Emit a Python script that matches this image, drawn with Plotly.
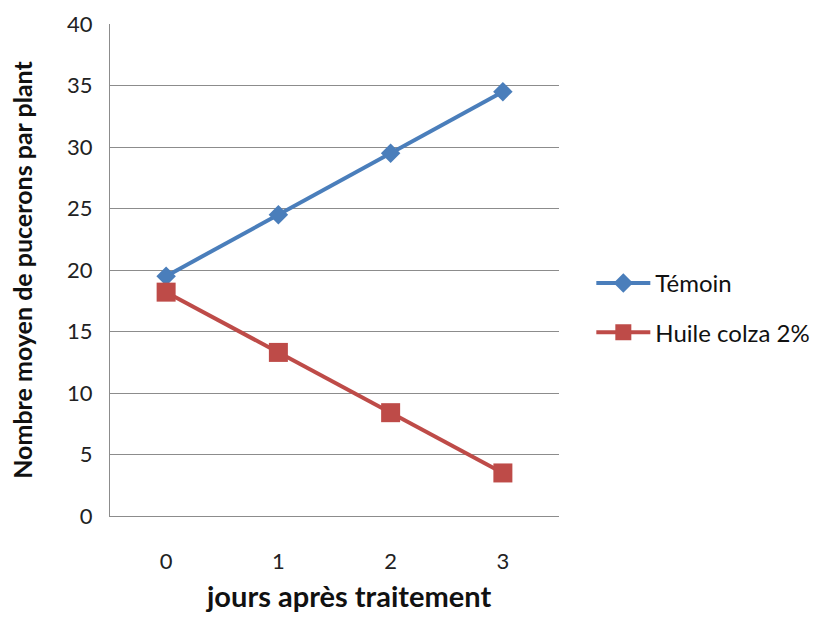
import plotly.graph_objects as go

jours = ["0", "1", "2", "3"]
temoin = [19.5, 24.5, 29.5, 34.5]
huile_colza = [18.2, 13.3, 8.4, 3.5]
y_ticks = [0, 5, 10, 15, 20, 25, 30, 35, 40]

fig = go.Figure()
fig.add_trace(go.Scatter(
    x=jours, y=temoin, name="Témoin", mode="lines+markers",
    legendgroup="a",
    line=dict(color="#4A7EBB", width=4),
    marker=dict(symbol="diamond", size=15, color="#4A7EBB"),
))
fig.add_trace(go.Scatter(
    x=jours, y=huile_colza, name="Huile colza 2%", mode="lines+markers",
    legendgroup="b",
    line=dict(color="#BE4B48", width=4),
    marker=dict(symbol="square", size=19, color="#BE4B48"),
))

font_family = "Lato, 'Open Sans', sans-serif"
fig.update_layout(
    width=816, height=617,
    margin=dict(l=110, r=257, t=24, b=101, autoexpand=False),
    paper_bgcolor="white", plot_bgcolor="white",
    font=dict(family=font_family, color="#222222"),
    showlegend=True,
    legend=dict(
        x=1.072, y=0.423, xanchor="left", yanchor="middle",
        font=dict(size=24, color="#111111"),
        tracegroupgap=15, itemwidth=54,
        bgcolor="rgba(0,0,0,0)",
    ),
    xaxis=dict(
        type="category", range=[-0.5, 3.5], automargin=False,
        showgrid=False, showline=True, linecolor="#8C8C8C", linewidth=1,
        ticks="", tickfont=dict(size=22, color="#222222"),
        ticklabelstandoff=26,
        mirror=False,
    ),
    yaxis=dict(
        range=[0, 40], tickvals=y_ticks, automargin=False,
        showgrid=True, gridcolor="#8C8C8C", gridwidth=1,
        showline=True, linecolor="#8C8C8C", linewidth=1,
        ticks="", tickfont=dict(size=22, color="#222222"),
        ticklabelstandoff=12, zeroline=False,
        title=dict(text="<b>Nombre moyen de pucerons par plant</b>",
                   font=dict(size=25, color="#111111"), standoff=27),
    ),
    annotations=[dict(
        text="<b>jours après traitement</b>",
        xref="paper", yref="paper", x=0.531, y=-0.2012,
        xanchor="center", yanchor="bottom", showarrow=False,
        font=dict(size=29, color="#111111"),
    )],
)

fig.write_html("out.html")
